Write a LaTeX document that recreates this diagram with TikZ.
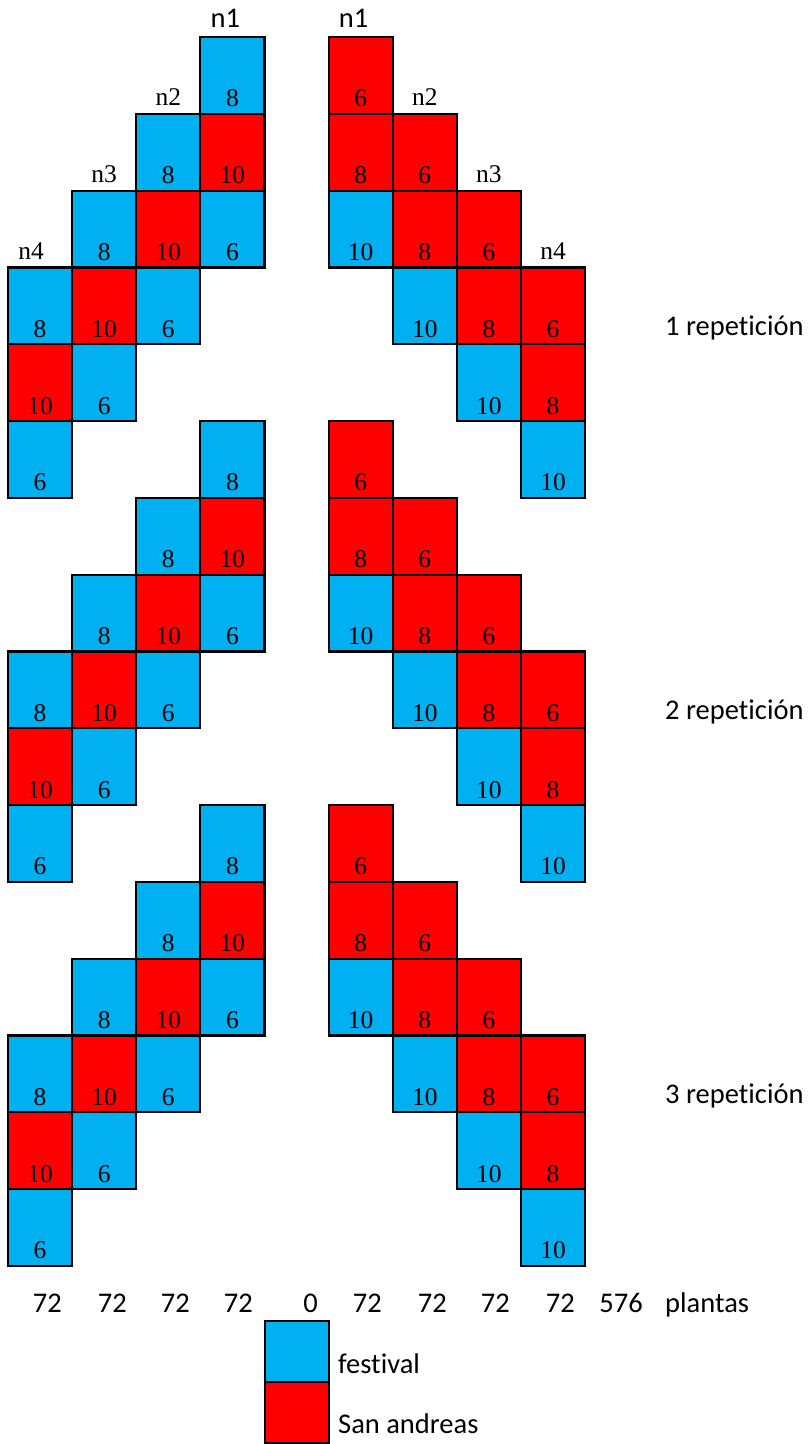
\documentclass[tikz,border=0pt]{standalone}
\usepackage{fontspec}
\usepackage{xcolor}
\usetikzlibrary{positioning,calc}
\newfontfamily\calibrifont[Ligatures=NoCommon]{Carlito}
\newfontfamily\timesfont{Liberation Serif}
\definecolor{festblue}{HTML}{00B0F0}
\definecolor{sanred}{HTML}{FF0000}
\tikzset{
  plotbox/.style={draw=black,line width=2.2pt,minimum width=64.125pt,minimum height=76.8pt,
    anchor=north west,inner sep=0pt,outer sep=0pt},
  legendbox/.style={plotbox,minimum height=61pt},
  cellnum/.style={font=\timesfont\fontsize{25.5}{26}\selectfont,anchor=base,inner sep=0pt},
  rowlabel/.style={font=\timesfont\fontsize{25.5}{26}\selectfont,anchor=base,inner sep=0pt},
  sanslabel/.style={font=\calibrifont\fontsize{28.5}{29}\selectfont,inner sep=0pt}
}

\begin{document}
\begin{tikzpicture}[x=1pt,y=-1pt]
  \useasboundingbox (0,0) rectangle (811,1444);
  % three repetitions, each shifted five rows down
  \foreach \rep in {0,1,2}{
    \foreach \c/\r/\k/\v in {3/0/festblue/8, 2/1/festblue/8, 3/1/sanred/10,
        1/2/festblue/8, 2/2/sanred/10, 3/2/festblue/6,
        0/3/festblue/8, 1/3/sanred/10, 2/3/festblue/6,
        0/4/sanred/10, 1/4/festblue/6, 0/5/festblue/6,
        5/0/sanred/6, 5/1/sanred/8, 6/1/sanred/6,
        5/2/festblue/10, 6/2/sanred/8, 7/2/sanred/6,
        6/3/festblue/10, 7/3/sanred/8, 8/3/sanred/6,
        7/4/festblue/10, 8/4/sanred/8, 8/5/festblue/10}{
      \pgfmathsetmacro\cx{8+64.125*\c}
      \pgfmathsetmacro\cy{37+76.8*(\r+5*\rep)}
      \node[plotbox,fill=\k] (cell-\rep-\c-\r) at (\cx,\cy) {};
      \node[cellnum] (num-\rep-\c-\r) at ($(cell-\rep-\c-\r.south)+(0,-7)$) {\v};
    }
  }
  % row names over the first repetition
  \node[sanslabel,anchor=base] (n1left) at ($(cell-0-3-0.north)+(-7,-10)$) {n1};
  \node[rowlabel] (n2left) at ($(cell-0-2-1.north)+(0,-8)$) {n2};
  \node[rowlabel] (n3left) at ($(cell-0-1-2.north)+(0,-8)$) {n3};
  \node[rowlabel] (n4left) at ($(cell-0-0-3.north)+(-9,-8)$) {n4};
  \node[sanslabel,anchor=base] (n1right) at ($(cell-0-5-0.north)+(-7,-10)$) {n1};
  \node[rowlabel] (n2right) at ($(cell-0-6-1.north)+(0,-8)$) {n2};
  \node[rowlabel] (n3right) at ($(cell-0-7-2.north)+(0,-8)$) {n3};
  \node[rowlabel] (n4right) at ($(cell-0-8-3.north)+(0,-8)$) {n4};
  \foreach \rep in {0,1,2}{
    \pgfmathsetmacro\ry{335+384.4*\rep}
    \pgfmathtruncatemacro\nrep{\rep+1}
    \node[sanslabel,anchor=base west] (rep-\nrep) at (665,\ry) {\nrep{} repetición};
  }
  % totals
  \foreach \tx/\tv [count=\i] in {62/72, 127/72, 190/72, 253/72, 318/0,
      382/72, 447/72, 510/72, 575/72, 643/576}{
    \node[sanslabel,anchor=base east] (total-\i) at (\tx,1312) {\tv};
  }
  \node[sanslabel,anchor=base west] (plantas) at (665,1312) {plantas};
  % legend
  \node[legendbox,fill=festblue] (legfest) at (265,1321) {};
  \node[legendbox,fill=sanred,below=0pt of legfest] (legsan) {};
  \node[sanslabel,anchor=base west] (festtext) at (338,1373) {festival};
  \node[sanslabel,anchor=base west] (santext) at (338,1433) {San andreas};
\end{tikzpicture}
\end{document}
